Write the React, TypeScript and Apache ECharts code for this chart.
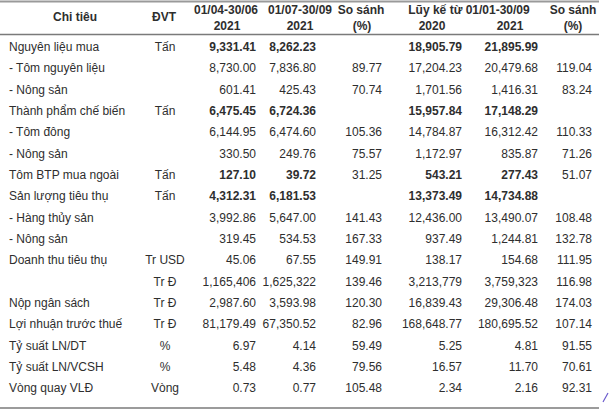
import React, { useEffect, useRef } from "react";
import * as echarts from "echarts";

const labels = [
  "Nguyên liệu mua", "- Tôm nguyên liệu", "- Nông sản", "Thành phẩm chế biến", "- Tôm đông",
  "- Nông sản", "Tôm BTP mua ngoài", "Sản lượng tiêu thụ", "- Hàng thủy sản", "- Nông sản",
  "Doanh thu tiêu thụ", "", "Nộp ngân sách", "Lợi nhuận trước thuế", "Tỷ suất LN/DT",
  "Tỷ suất LN/VCSH", "Vòng quay VLĐ",
];
const units = ["Tấn", "", "", "Tấn", "", "", "Tấn", "Tấn", "", "", "Tr USD", "Tr Đ", "Tr Đ", "Tr Đ", "%", "%", "Vòng"];
const q2_2021 = ["9,331.41", "8,730.00", "601.41", "6,475.45", "6,144.95", "330.50", "127.10", "4,312.31", "3,992.86", "319.45", "45.06", "1,165,406", "2,987.60", "81,179.49", "6.97", "5.48", "0.73"];
const q3_2021 = ["8,262.23", "7,836.80", "425.43", "6,724.36", "6,474.60", "249.76", "39.72", "6,181.53", "5,647.00", "534.53", "67.55", "1,625,322", "3,593.98", "67,350.52", "4.14", "4.36", "0.77"];
const qCompare = ["", "89.77", "70.74", "", "105.36", "75.57", "31.25", "", "141.43", "167.33", "149.91", "139.46", "120.30", "82.96", "59.49", "79.56", "105.48"];
const ytd2020 = ["18,905.79", "17,204.23", "1,701.56", "15,957.84", "14,784.87", "1,172.97", "543.21", "13,373.49", "12,436.00", "937.49", "138.17", "3,213,779", "16,839.43", "168,648.77", "5.25", "16.57", "2.34"];
const ytd2021 = ["21,895.99", "20,479.68", "1,416.31", "17,148.29", "16,312.42", "835.87", "277.43", "14,734.88", "13,490.07", "1,244.81", "154.68", "3,759,323", "29,306.48", "180,695.52", "4.81", "11.70", "2.16"];
const ytdCompare = ["", "119.04", "83.24", "", "110.33", "71.26", "51.07", "", "108.48", "132.78", "111.95", "116.98", "174.03", "107.14", "91.55", "70.61", "92.31"];
const boldRows = [0, 3, 6, 7];

const headerTop = ["01/04-30/06", "01/07-30/09", "So sánh", "Lũy kế từ 01/01-30/09", "So sánh"];
const headerBottom = ["2021", "2021", "(%)", "2020", "2021", "(%)"];

export default function App() {
  const ref = useRef<HTMLDivElement>(null);
  useEffect(() => {
    if (!ref.current) return;
    const chart = echarts.init(ref.current, undefined, { renderer: "svg" });
    const FONT = "Liberation Sans, Arial, sans-serif";
    const color = "#2e2e2e";
    const rowY0 = 47;
    const rowStep = 21.33;
    const labelX = 9;
    const unitX = 165;
    const valueCols = [
      { data: q2_2021, right: 256, boldable: true },
      { data: q3_2021, right: 316, boldable: true },
      { data: qCompare, right: 382, boldable: false },
      { data: ytd2020, right: 462, boldable: true },
      { data: ytd2021, right: 538, boldable: true },
      { data: ytdCompare, right: 592, boldable: false },
    ];
    const txt = (text: string, x: number, y: number, align: string, bold = false) => ({
      type: "text",
      x,
      y,
      silent: true,
      style: {
        text,
        fill: color,
        font: `${bold ? "bold " : ""}12px ${FONT}`,
        align,
        verticalAlign: "middle",
      },
    });
    const elements: any[] = [];
    // header
    elements.push(txt("Chi tiêu", 75, 17, "center", true));
    elements.push(txt("ĐVT", 164, 17, "center", true));
    const topX = [226, 300, 361, 469, 573];
    headerTop.forEach((t, i) => elements.push(txt(t, topX[i], 10, "center", true)));
    const botX = [227, 300, 362, 432, 510, 573];
    headerBottom.forEach((t, i) => elements.push(txt(t, botX[i], 26, "center", true)));
    // rows
    labels.forEach((l, i) => {
      const y = rowY0 + i * rowStep;
      if (l) elements.push(txt(l, labelX, y, "left"));
      if (units[i]) elements.push(txt(units[i], unitX, y, "center"));
      valueCols.forEach((c) => {
        const v = c.data[i];
        if (v) elements.push(txt(v, c.right, y, "right", c.boldable && boldRows.includes(i)));
      });
    });
    // rules
    const line = (y: number, w: number, stroke: string) => ({
      type: "line",
      silent: true,
      shape: { x1: 0, y1: y, x2: 599, y2: y },
      style: { stroke, lineWidth: w },
    });
    elements.push(line(1.5, 2, "#9a9a9a"));
    elements.push(line(34.5, 1.5, "#7a7a7a"));
    elements.push(line(408, 1.5, "#7a7a7a"));
    // pen mark
    elements.push({
      type: "line",
      silent: true,
      shape: { x1: 603, y1: 402, x2: 608, y2: 393 },
      style: { stroke: "#6a5acd", lineWidth: 1.2 },
    });

    chart.setOption({
      animation: false,
      backgroundColor: "#ffffff",
      graphic: { elements },
    });
    return () => chart.dispose();
  }, []);
  return (
    <div
      ref={ref}
      style={{ position: "fixed", left: 0, top: 0, width: 609, height: 410, background: "#fff" }}
    />
  );
}
